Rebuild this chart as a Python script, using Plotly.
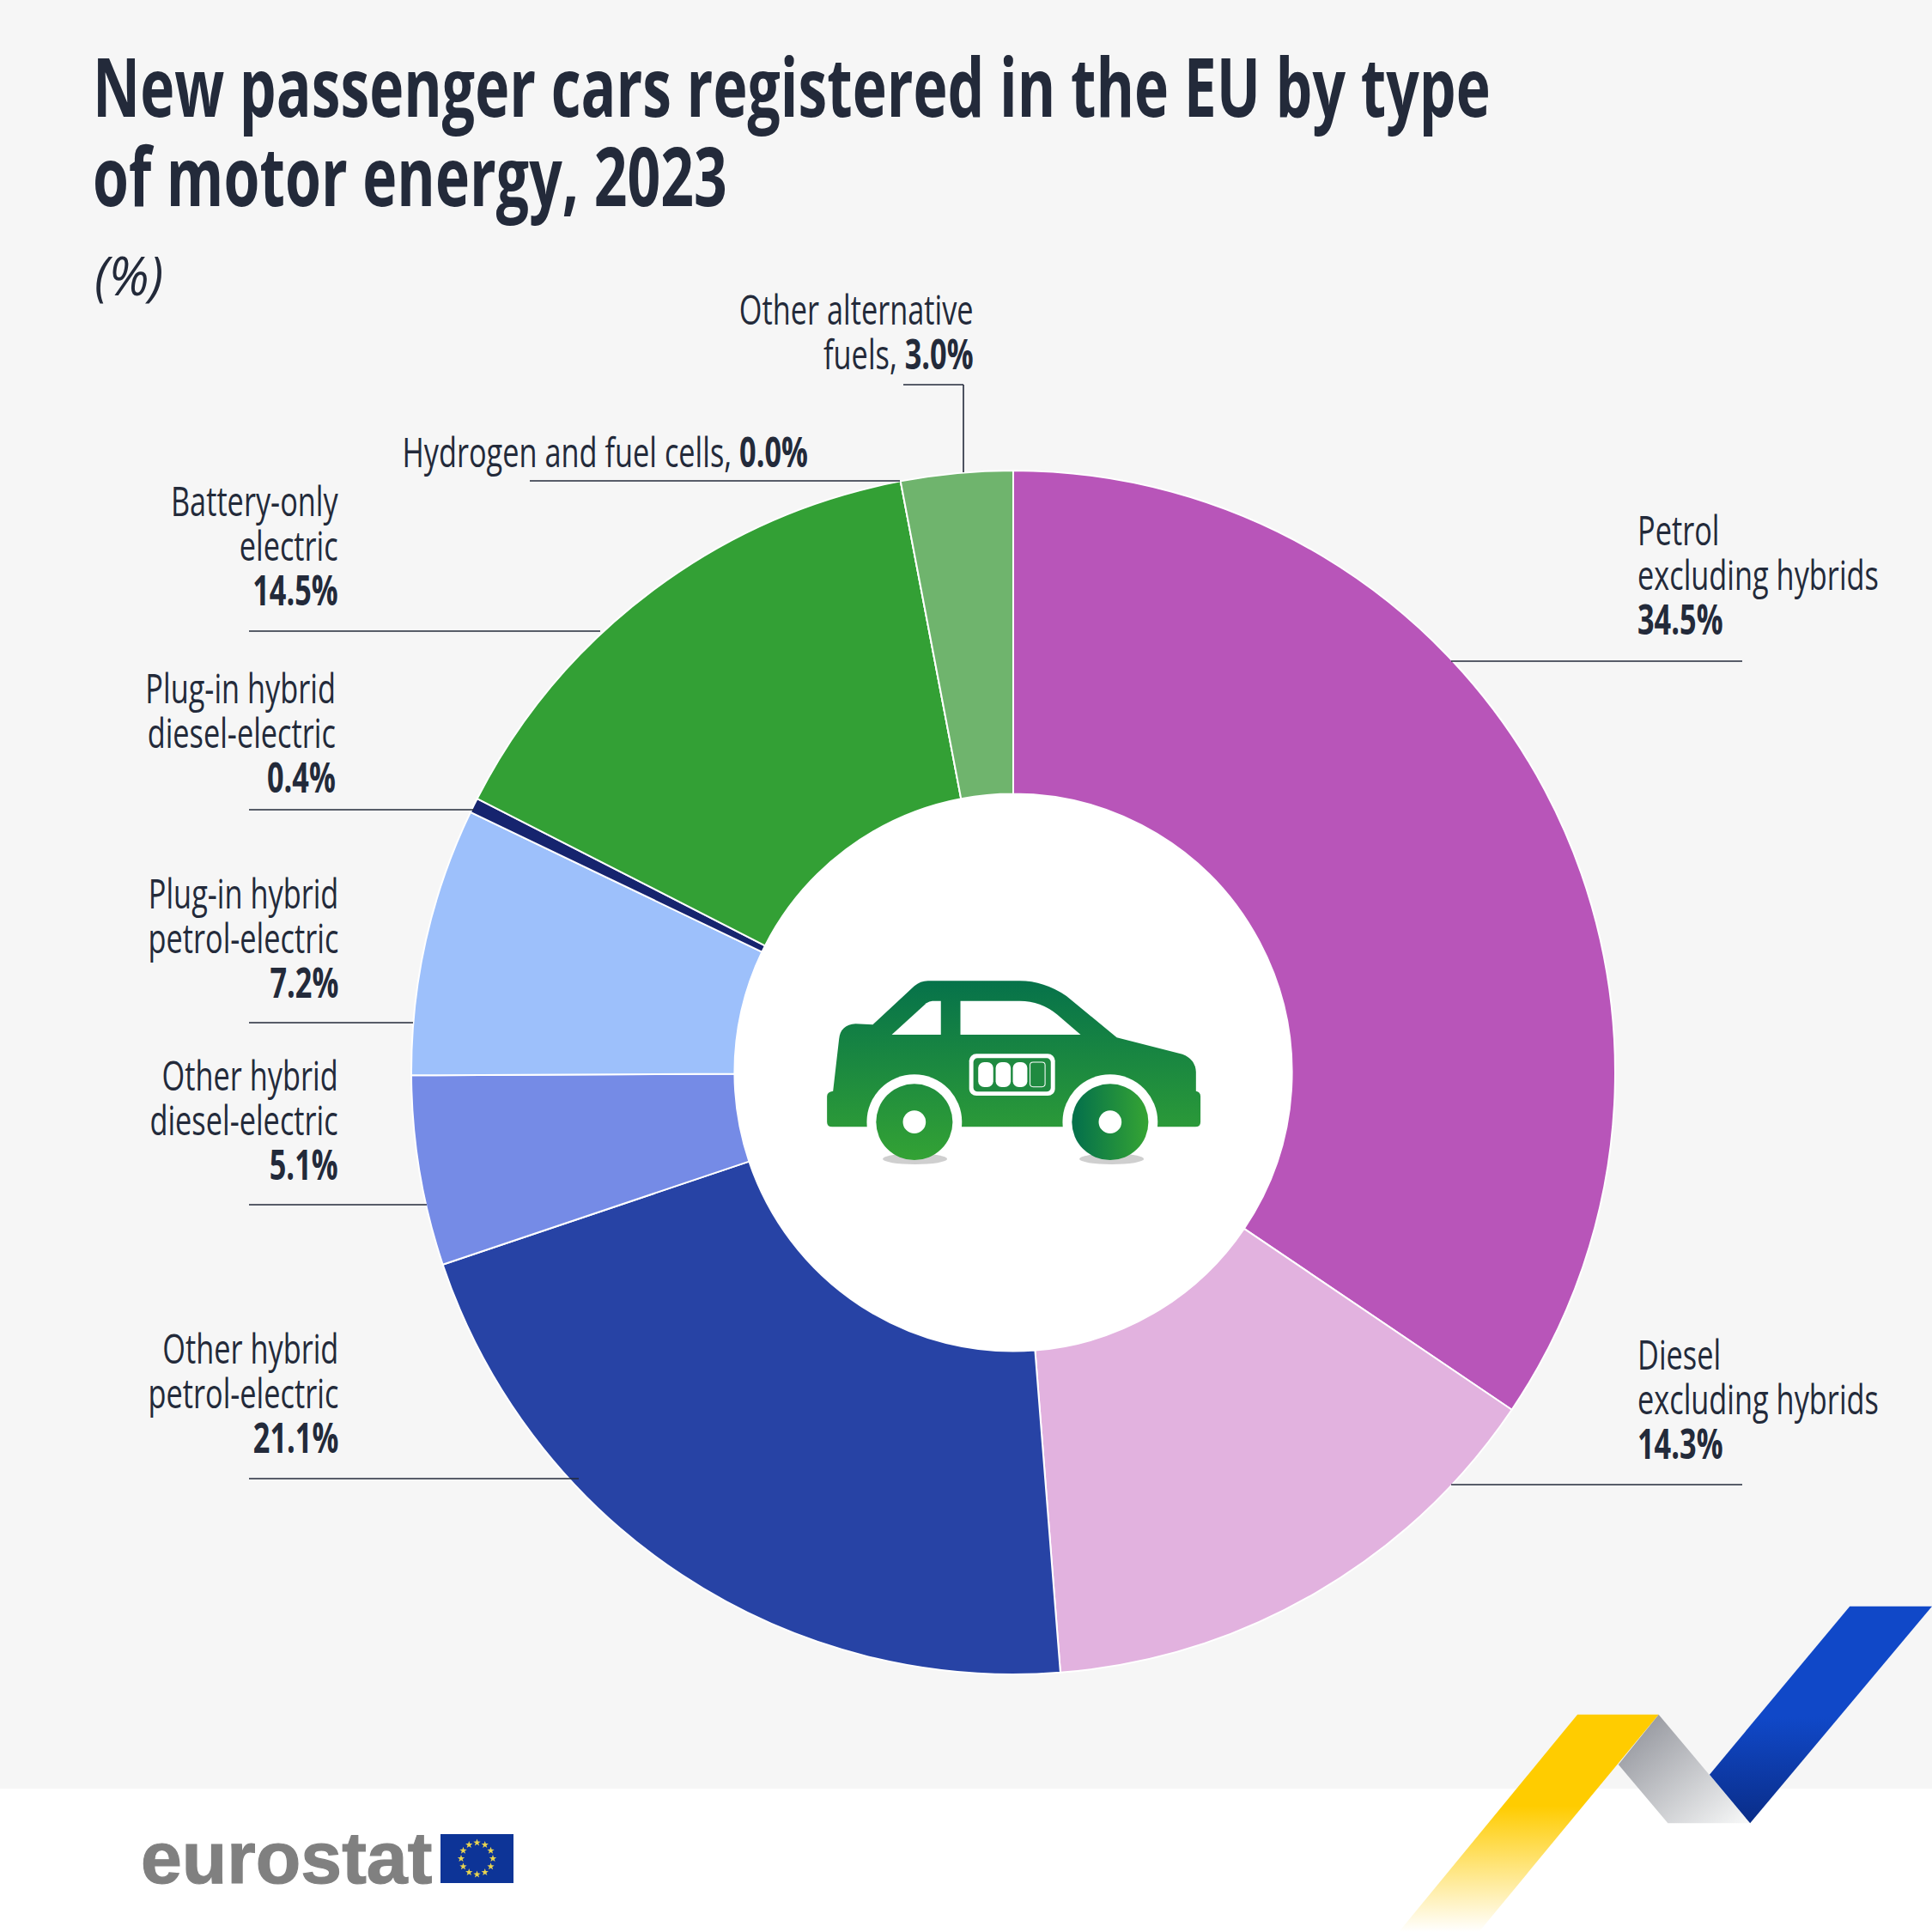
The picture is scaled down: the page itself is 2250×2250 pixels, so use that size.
import base64, math
import plotly.graph_objects as go

# ---------- data ----------
categories = ["Petrol excluding hybrids", "Diesel excluding hybrids", "Other hybrid petrol-electric",
              "Other hybrid diesel-electric", "Plug-in hybrid petrol-electric", "Plug-in hybrid diesel-electric",
              "Battery-only electric", "Hydrogen and fuel cells", "Other alternative fuels"]
values = [34.5, 14.3, 21.1, 5.1, 7.2, 0.4, 14.5, 0.0, 3.0]
slice_colors = ["#B855B9", "#E2B2DF", "#2743A5", "#758BE6", "#9DC0FB", "#16246E", "#33A035", "#33A035", "#6FB46D"]

label_texts = ["Petrol<br>excluding hybrids<br><b>34.5%</b>",
               "Diesel<br>excluding hybrids<br><b>14.3%</b>",
               "Other hybrid<br>petrol-electric<br><b>21.1%</b>",
               "Other hybrid<br>diesel-electric<br><b>5.1%</b>",
               "Plug-in hybrid<br>petrol-electric<br><b>7.2%</b>",
               "Plug-in hybrid<br>diesel-electric<br><b>0.4%</b>",
               "Battery-only<br>electric<br><b>14.5%</b>",
               "Hydrogen and fuel cells, <b>0.0%</b>",
               "Other alternative<br>fuels, <b>3.0%</b>"]
# anchor x px, centre y px, side
label_pos = [(1905, 669, "left"), (1905, 1629, "left"), (396, 1622, "right"), (396, 1304, "right"),
             (396, 1092, "right"), (393, 853, "right"), (396, 635, "right"), (943, 525, "right"), (1136, 385, "right")]
leaders = [[(1690, 770), (2029, 770)], [(1690, 1729), (2029, 1729)], [(290, 1722), (674, 1722)],
           [(290, 1403), (497, 1403)], [(290, 1191), (481, 1191)], [(290, 943), (552, 943)],
           [(290, 735), (699, 735)], [(617, 560), (1048, 560)], [(1052, 448), (1122, 448), (1122, 550)]]

W = H = 2250
INK = "#232A3A"
FONT = "Open Sans, Noto Sans, sans-serif"
LABEL_SIZE = 48
LABEL_LINE = 52
def fx(x): return x / W
def fy(y): return 1 - y / H
def uri(svg): return "data:image/svg+xml;base64," + base64.b64encode(svg.encode()).decode()

# ---------- decorative vector art ----------
car_svg = '''<svg xmlns="http://www.w3.org/2000/svg" width="550" height="300" viewBox="0 0 1568 900" preserveAspectRatio="none">
<defs><linearGradient id="g" gradientUnits="userSpaceOnUse" x1="0" y1="127" x2="0" y2="765"><stop offset="0" stop-color="#06724A"/><stop offset="1" stop-color="#34A334"/></linearGradient>
<linearGradient id="h" gradientUnits="userSpaceOnUse" x1="1010" y1="0" x2="1240" y2="0"><stop offset="0" stop-color="#06724A"/><stop offset="1" stop-color="#34A334"/></linearGradient></defs>
<path fill="url(#g)" d="M180 530Q180 515 200 512L220 330Q225 280 275 277L332 280L470 145Q490 127 515 127L820 127Q900 127 975 180L1142 325L1360 383Q1403 400 1405 445L1405 512Q1420 515 1420 530L1420 620Q1420 637 1403 637L197 637Q180 637 180 620Z"/>
<g fill="#fff"><path d="M395 315L510 205Q520 197 530 197L558 197L558 315Z"/><path d="M623 197L820 197Q890 197 945 245L1022 315L623 315Z"/>
<ellipse cx="470" cy="620" rx="158" ry="166"/><ellipse cx="1120" cy="620" rx="158" ry="166"/><rect x="652" y="382" width="285" height="146" rx="24"/></g>
<rect x="666" y="397" width="257" height="117" rx="14" fill="#1F8A40"/>
<g fill="#fff"><rect x="682" y="411" width="50" height="87" rx="20"/><rect x="740" y="411" width="50" height="87" rx="20"/><rect x="797" y="411" width="48" height="87" rx="20"/></g>
<rect x="854" y="411" width="50" height="86" rx="10" fill="none" stroke="#fff" stroke-width="3"/>
<g fill="#CFCFCF"><ellipse cx="472" cy="749" rx="107" ry="19"/><ellipse cx="1125" cy="749" rx="107" ry="19"/></g>
<ellipse cx="470" cy="620" rx="127" ry="133" fill="url(#g)"/><ellipse cx="1120" cy="620" rx="127" ry="133" fill="url(#h)"/>
<g fill="#fff"><ellipse cx="470" cy="620" rx="38" ry="40"/><ellipse cx="1120" cy="620" rx="38" ry="40"/></g></svg>'''

ribbon_svg = '''<svg xmlns="http://www.w3.org/2000/svg" width="650" height="400" viewBox="0 0 1568 1200" preserveAspectRatio="none">
<defs><linearGradient id="b" gradientUnits="userSpaceOnUse" x1="0" y1="820" x2="0" y2="450"><stop offset="0" stop-color="#0A2D88"/><stop offset="1" stop-color="#1048C8"/></linearGradient>
<linearGradient id="y" gradientUnits="userSpaceOnUse" x1="0" y1="760" x2="0" y2="1200"><stop offset="0" stop-color="#FFCC00"/><stop offset="1" stop-color="#FFCC00" stop-opacity="0"/></linearGradient>
<linearGradient id="s" gradientUnits="userSpaceOnUse" x1="700" y1="540" x2="1020" y2="840"><stop offset="0" stop-color="#9A9CA3"/><stop offset="1" stop-color="#F6F7F7"/></linearGradient></defs>
<polygon fill="url(#s)" points="800,440 1057,820 826,820 687,615"/>
<polygon fill="url(#b)" points="1337,62 1568,62 1057,820 943,650"/>
<polygon fill="url(#y)" points="572,440 800,440 295,1200 70,1200"/></svg>'''

def star(cx, cy, r):
    return " ".join(f"{cx + r*(1 if i%2==0 else .4)*math.sin(i*math.pi/5):.2f},{cy - r*(1 if i%2==0 else .4)*math.cos(i*math.pi/5):.2f}" for i in range(10))
stars = "".join(f'<polygon fill="#E9D44F" points="{star(42.5 + 18.5*math.sin(k*math.pi/6), 28.5 - 18.5*math.cos(k*math.pi/6), 4.4)}"/>' for k in range(12))
flag_svg = f'<svg xmlns="http://www.w3.org/2000/svg" width="85" height="57" viewBox="0 0 85 57"><rect width="85" height="57" fill="#0D3497"/>{stars}</svg>'

def image(svg, x, y, w, h):
    return dict(source=uri(svg), xref="paper", yref="paper", x=fx(x), y=fy(y), sizex=w/W, sizey=h/H,
                xanchor="left", yanchor="top", sizing="stretch", layer="above")

# ---------- figure ----------
fig = go.Figure(go.Pie(labels=categories, values=values, sort=False, direction="clockwise", rotation=0,
                       hole=0.463, textinfo="none", hoverinfo="label+value", showlegend=False,
                       marker=dict(colors=slice_colors, line=dict(color="#FFFFFF", width=2)),
                       domain=dict(x=[fx(1180-701), fx(1180+701)], y=[fy(1249+701), fy(1249-701)])))

shapes = [dict(type="rect", xref="paper", yref="paper", x0=0, x1=1, y0=fy(2083), y1=1, fillcolor="#F6F6F6",
               line_width=0, layer="below"),
          dict(type="circle", xref="paper", yref="paper", x0=fx(1180-326), x1=fx(1180+326), y0=fy(1249+326), y1=fy(1249-326),
               fillcolor="#FFFFFF", line_width=0, layer="below")]
for pts in leaders:
    for (a, b), (c, d) in zip(pts, pts[1:]):
        shapes.append(dict(type="line", xref="paper", yref="paper", x0=fx(a), y0=fy(b), x1=fx(c), y1=fy(d),
                           line=dict(color=INK, width=1.6), layer="above"))

ann = []
for text, (x, y, side) in zip(label_texts, label_pos):
    n = text.count("<br>")
    # plotly stacks lines at 1.3em; the page script tightens them, so shift the anchor to keep the block centred
    y_anchor = y + n * (1.3 * LABEL_SIZE - LABEL_LINE) / 2
    ann.append(dict(text=text, x=fx(x), y=fy(y_anchor), xref="paper", yref="paper", xanchor=side, yanchor="middle", align=side,
                    showarrow=False, font=dict(family=FONT, size=LABEL_SIZE, color=INK)))
ann.append(dict(text="<i>(%)</i>", x=fx(108), y=fy(320), xref="paper", yref="paper", xanchor="left", yanchor="middle",
                showarrow=False, font=dict(family=FONT, size=62, color=INK)))
ann.append(dict(text="<b>eurostat</b>", x=fx(162), y=fy(2163), xref="paper", yref="paper", xanchor="left", yanchor="middle",
                showarrow=False, font=dict(family="Liberation Sans", size=86, color="#808080")))

fig.update_layout(width=W, height=H, margin=dict(l=0, r=0, t=0, b=0), paper_bgcolor="#FFFFFF", autosize=False,
                  title=dict(text="<b>New passenger cars registered in the EU by type<br>of motor energy, 2023</b>",
                             x=fx(108), xref="paper", xanchor="left", y=fy(136), yref="paper", yanchor="middle",
                             font=dict(family=FONT, size=95, color=INK)),
                  shapes=shapes, annotations=ann,
                  images=[image(car_svg, 900, 1100, 550, 300), image(ribbon_svg, 1600, 1850, 650, 400),
                          image(flag_svg, 513, 2136, 85, 57)])

# The reference type is a condensed face: condense the installed one horizontally and tighten its leading.
post = """
document.body.style.margin='0';
function condense(t, sx, dy){
  var lines = t.querySelectorAll('tspan.line');
  lines.forEach(function(l,i){ if(i>0) l.setAttribute('dy', (i*dy)+'px'); });
  var b = t.getBBox();
  var a = t.getAttribute('text-anchor') || 'start';
  var right = a === 'end';
  var ox = right ? b.x + b.width : b.x;
  var base = t.getAttribute('transform') || '';
  t.setAttribute('transform', base + ' translate('+ox+',0) scale('+sx+',1) translate('+(-ox)+',0)');
}
document.querySelectorAll('.gtitle').forEach(function(t){ condense(t, TITLE_SX, 104); });
document.querySelectorAll('.annotation-text').forEach(function(t){
  if(t.textContent.indexOf('eurostat')>=0){ t.style.stroke='#808080'; t.style.strokeWidth='1.2px'; return; }
  if(t.textContent==='(%)'){ condense(t, 0.95, 0); return; }
  condense(t, LABEL_SX, LABEL_LINE);
});
""".replace("TITLE_SX", "0.714").replace("LABEL_SX", "0.715").replace("LABEL_LINE", str(LABEL_LINE))
fig.write_html("out.html", post_script=post, config={"displayModeBar": False})
